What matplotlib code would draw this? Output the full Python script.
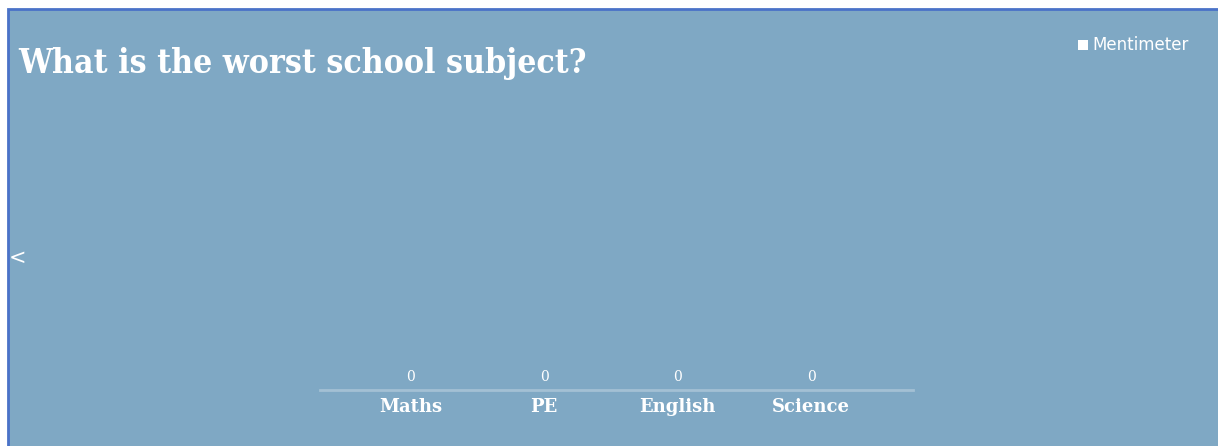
import matplotlib.pyplot as plt
from matplotlib.patches import Rectangle

# poll data
subjects = ["Maths", "PE", "English", "Science"]
votes = [0, 0, 0, 0]
question = "What is the worst school subject?"

W, H = 1218, 446
bg = "#7fa8c4"
border = "#4a72c8"

fig = plt.figure(figsize=(W / 100, H / 100), dpi=100)
fig.patch.set_facecolor("white")

# slide background with blue frame (bottom and right run off the image)
panel = Rectangle((8 / W, -0.02), 1.02, (H - 9) / H + 0.02, transform=fig.transFigure,
                  facecolor=bg, edgecolor=border, linewidth=2, zorder=0)
fig.add_artist(panel)

# title
fig.text(18 / W, (H - 63) / H, question, color="white", fontsize=24.2, fontweight="bold",
         family="DejaVu Serif", stretch="condensed", va="center", ha="left")

# logo
fig.add_artist(Rectangle((1078 / W, (H - 50) / H), 10 / W, 10 / H, transform=fig.transFigure,
                         facecolor="white", edgecolor="none"))
fig.text(1092 / W, (H - 45) / H, "Mentimeter", color="white", fontsize=12,
         fontweight="medium", family="DejaVu Sans", va="center", ha="left")

# back arrow
fig.text(9 / W, (H - 258) / H, "<", color="white", fontsize=15, va="center", ha="left")

# bar chart
ax = fig.add_axes([320 / W, 56 / H, 593 / W, 250 / H])
ax.set_facecolor("none")
x = range(len(subjects))
ax.bar(x, votes, width=0.6, color="white")
ax.set_xlim(-91 / 134, 3 + 102 / 134)
ax.set_ylim(0, 10)
for xi, v in zip(x, votes):
    ax.annotate(str(v), (xi, v), xytext=(0, 4), textcoords="offset points",
                ha="center", va="bottom", color="white", fontsize=10, family="DejaVu Serif")
ax.set_xticks(list(x))
ax.set_xticklabels(subjects, color="white", fontsize=13, fontweight="bold", family="DejaVu Serif")
ax.tick_params(axis="x", length=0, pad=6)
ax.set_yticks([])
for s in ["top", "left", "right"]:
    ax.spines[s].set_visible(False)
ax.spines["bottom"].set_color("#a3c0d4")
ax.spines["bottom"].set_linewidth(2)

fig.savefig("out.png", dpi=100, facecolor=fig.get_facecolor())
